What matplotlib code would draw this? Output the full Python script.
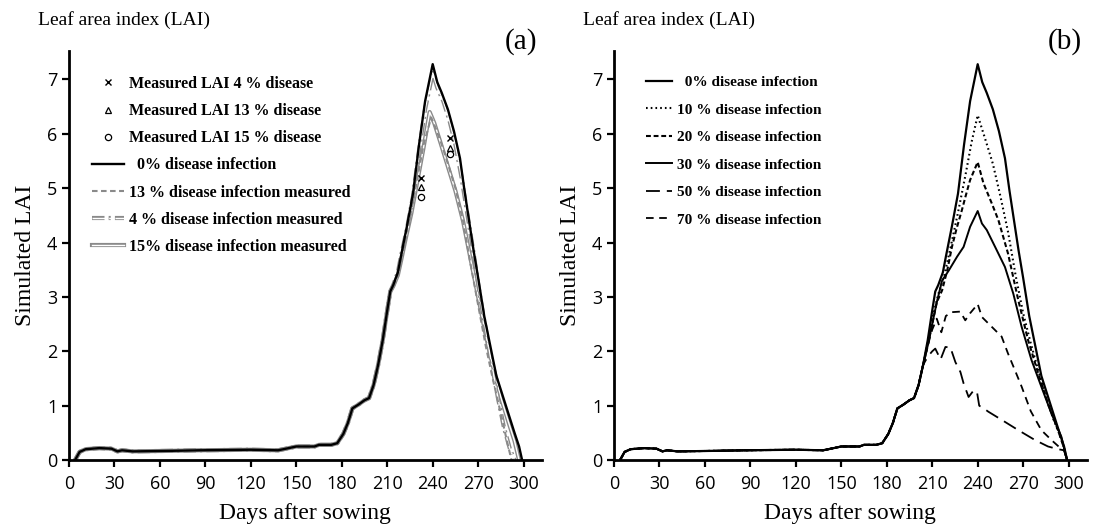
import numpy as np
import matplotlib
matplotlib.use('Agg')
import matplotlib.pyplot as plt

plt.rcParams['lines.scale_dashes'] = False

# shared early season (all scenarios identical)
base_days = [4, 7, 11, 20, 28, 32, 35, 42, 68, 86, 120, 138, 145, 150, 162, 165, 173, 177,
             181, 184, 187, 191, 195, 198, 201, 204]
base_lai = [0, 0.15, 0.2, 0.22, 0.21, 0.16, 0.18, 0.16, 0.17, 0.18, 0.19, 0.18, 0.22, 0.25,
            0.25, 0.28, 0.28, 0.31, 0.48, 0.68, 0.95, 1.02, 1.1, 1.14, 1.38, 1.75]

# 0 % disease (both panels)
d0 = [207, 210, 212, 214, 217, 219, 223, 227, 231, 235, 240, 243, 246, 250, 254, 258, 261,
      264, 267, 270, 274, 278, 282, 286, 290, 294, 297, 299]
l0 = [2.2, 2.75, 3.1, 3.22, 3.45, 3.74, 4.3, 4.9, 5.8, 6.6, 7.28, 6.95, 6.75, 6.45, 6.05,
      5.55, 4.95, 4.4, 3.85, 3.35, 2.65, 2.1, 1.55, 1.2, 0.85, 0.5, 0.25, 0]

# panel (a) measured-infection runs
d4 = [207, 210, 212, 214, 217, 219, 223, 227, 231, 235, 240, 243, 247, 251, 255, 259, 263,
      267, 271, 275, 279, 283, 287, 291, 294]
l4 = [2.2, 2.75, 3.1, 3.22, 3.45, 3.74, 4.25, 4.85, 5.7, 6.45, 7.12, 6.85, 6.6, 6.25, 5.8,
      5.2, 4.5, 3.8, 3.05, 2.4, 1.75, 1.15, 0.6, 0.2, 0]
d13 = [207, 210, 212, 214, 217, 219, 222, 226, 230, 234, 239, 242, 246, 250, 255, 260, 265,
       270, 275, 280, 285, 289, 292]
l13 = [2.2, 2.75, 3.1, 3.2, 3.4, 3.65, 4.1, 4.6, 5.2, 5.8, 6.3, 6.1, 5.8, 5.45, 5.0, 4.4,
       3.6, 2.85, 2.1, 1.45, 0.85, 0.35, 0]
d15 = [207, 210, 212, 214, 217, 219, 222, 226, 230, 234, 238, 241, 245, 250, 255, 260, 265,
       270, 275, 280, 285, 290, 294, 297]
l15 = [2.2, 2.75, 3.1, 3.2, 3.4, 3.65, 4.05, 4.55, 5.15, 5.75, 6.4, 6.2, 5.85, 5.4, 4.95,
       4.4, 3.7, 3.0, 2.3, 1.7, 1.15, 0.7, 0.35, 0]

meas_days = [232, 251.5]
meas4 = [5.18, 5.93]
meas13 = [5.02, 5.73]
meas15 = [4.84, 5.62]

# panel (b) scenarios
d10 = [207, 210, 214, 218, 222, 227, 232, 236, 240, 245, 250, 255, 260, 265, 270, 275, 280,
       285, 290, 295, 297, 299]
l10 = [2.15, 2.6, 3.05, 3.4, 3.9, 4.55, 5.25, 5.85, 6.34, 5.9, 5.45, 4.85, 4.2, 3.4, 2.7,
       2.15, 1.65, 1.15, 0.75, 0.4, 0.22, 0]
d20 = [207, 210, 213, 216.5, 220, 223, 226, 229.6, 232, 235, 240, 243.8, 249.3, 253.7, 260,
       266.8, 273.3, 280, 286.4, 293, 297, 299]
l20 = [2.1, 2.5, 2.9, 3.12, 3.5, 3.92, 4.25, 4.6, 4.85, 5.15, 5.48, 5.09, 4.72, 4.41, 3.8,
       2.94, 2.2, 1.59, 1.04, 0.55, 0.22, 0]
d30 = [207, 210, 213, 216.5, 221, 226.4, 230.7, 235, 240, 242.8, 246, 251.5, 258, 263.5,
       269, 275.5, 282, 288.6, 295.2, 297, 299]
l30 = [2.1, 2.5, 2.9, 3.3, 3.49, 3.74, 3.92, 4.29, 4.58, 4.35, 4.23, 3.92, 3.55, 3.06, 2.45,
       1.84, 1.35, 0.86, 0.43, 0.22, 0]
d50 = [207, 210, 212, 215.5, 218.7, 222, 225.3, 228.6, 230.7, 234, 237.3, 239.5, 241, 244,
       247, 255.8, 266.8, 277.7, 286.4, 293, 297, 299]
l50 = [1.9, 2.0, 2.05, 1.85, 2.08, 2.07, 1.8, 1.62, 1.41, 1.16, 1.28, 1.26, 1.0, 0.95, 0.89,
       0.74, 0.55, 0.37, 0.25, 0.2, 0.18, 0]
d70 = [207, 210, 213, 216, 219, 223, 228.5, 231.8, 235, 238, 240, 242.8, 249.3, 255.8, 260,
       264.6, 269, 275, 282, 288.6, 295, 297, 299]
l70 = [2.1, 2.4, 2.6, 2.35, 2.65, 2.72, 2.73, 2.57, 2.7, 2.8, 2.87, 2.63, 2.45, 2.27, 1.96,
       1.65, 1.35, 0.9, 0.55, 0.37, 0.21, 0.18, 0]

x_ticks = [0, 30, 60, 90, 120, 150, 180, 210, 240, 270, 300]
y_ticks = [0, 1, 2, 3, 4, 5, 6, 7]

GREY = '#8a8a8a'
SERIF = 'Liberation Serif'
SANS = 'Open Sans'


def series(days, lai):
    return base_days + days, base_lai + lai


def double_line(ax, x, y, ls='-', lw=3.0):
    outer, = ax.plot(x, y, color=GREY, lw=lw, ls=ls, zorder=2)
    inner, = ax.plot(x, y, color='white', lw=lw - 2.0, ls=ls, zorder=2)
    return (outer, inner)


def style_axes(ax, tag):
    ax.set_xlim(0, 312)
    ax.set_ylim(0, 7.52)
    ax.set_xticks(x_ticks)
    ax.set_yticks(y_ticks)
    for s in ['top', 'right']:
        ax.spines[s].set_visible(False)
    for s in ['left', 'bottom']:
        ax.spines[s].set_linewidth(2)
    ax.tick_params(direction='out', length=5, width=1.6, labelsize=13)
    ax.tick_params(axis='x', pad=6)
    for lab in ax.get_xticklabels() + ax.get_yticklabels():
        lab.set_family(SANS)
    ax.set_xlabel('Days after sowing', family=SERIF, fontsize=17, labelpad=7)
    ax.set_ylabel('Simulated LAI', family=SERIF, fontsize=17, labelpad=8)
    ax.text(-0.065, 1.055, 'Leaf area index (LAI)', transform=ax.transAxes,
            family=SERIF, fontsize=14, va='bottom')
    ax.text(0.99, 0.99, tag, transform=ax.transAxes, family=SERIF, fontsize=21,
            ha='right', va='bottom')


fig = plt.figure(figsize=(10.97, 5.27), dpi=100)
ax1 = fig.add_axes([0.0629, 0.127, 0.431, 0.776])
ax2 = fig.add_axes([0.5597, 0.127, 0.431, 0.776])

# ---- panel (a)
h15 = double_line(ax1, *series(d15, l15))
h4 = double_line(ax1, *series(d4, l4), ls=(0, (9, 3, 1.5, 3)))
h13, = ax1.plot(*series(d13, l13), color=GREY, lw=1.5, ls=(0, (4, 2.5)), zorder=2)
h0, = ax1.plot(*series(d0, l0), color='black', lw=1.7, zorder=3)
m4, = ax1.plot(meas_days, meas4, 'x', color='black', ms=5, mew=1, zorder=4)
m13, = ax1.plot(meas_days, meas13, '^', mfc='none', mec='black', ms=4.5, mew=0.9, zorder=4)
m15, = ax1.plot(meas_days, meas15, 'o', mfc='none', mec='black', ms=4.5, mew=0.9, zorder=4)
style_axes(ax1, '(a)')
ax1.legend([m4, m13, m15, h0, h13, h4, h15],
           ['Measured LAI 4 % disease', 'Measured LAI 13 % disease',
            'Measured LAI 15 % disease', '  0% disease infection',
            '13 % disease infection measured', '4 % disease infection measured',
            '15% disease infection measured'],
           loc='upper left', bbox_to_anchor=(0.035, 0.955), frameon=False,
           prop={'family': SERIF, 'weight': 'bold', 'size': 11.5},
           handlelength=2.0, handletextpad=0.3, labelspacing=0.7, borderaxespad=0)

# ---- panel (b)
b0, = ax2.plot(*series(d0, l0), color='black', lw=1.6)
b10, = ax2.plot(*series(d10, l10), color='black', lw=1.5, ls=(0, (1.2, 2.2)))
b20, = ax2.plot(*series(d20, l20), color='black', lw=1.5, ls=(0, (3.5, 2)))
b30, = ax2.plot(*series(d30, l30), color='black', lw=1.4)
b50, = ax2.plot(*series(d50, l50), color='black', lw=1.3, ls=(0, (10, 5)))
b70, = ax2.plot(*series(d70, l70), color='black', lw=1.3, ls=(0, (5.5, 4)))
style_axes(ax2, '(b)')
ax2.legend([b0, b10, b20, b30, b50, b70],
           ['  0% disease infection', '10 % disease infection', '20 % disease infection',
            '30 % disease infection', '50 % disease infection', '70 % disease infection'],
           loc='upper left', bbox_to_anchor=(0.055, 0.955), frameon=False,
           prop={'family': SERIF, 'weight': 'bold', 'size': 11},
           handlelength=1.7, handletextpad=0.3, labelspacing=0.9, borderaxespad=0)

fig.savefig('out.png', dpi=100)
